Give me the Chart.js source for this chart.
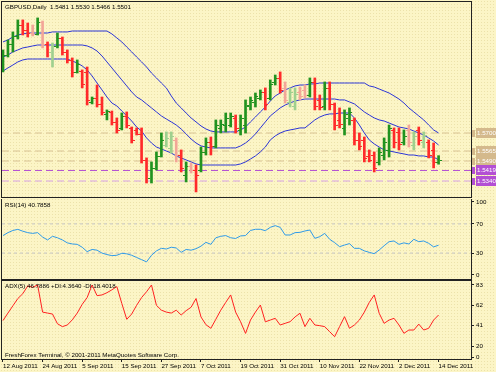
<!DOCTYPE html>
<html>
<head>
<meta charset="utf-8">
<script src="https://cdn.jsdelivr.net/npm/chart.js@4.4.0/dist/chart.umd.min.js"></script>
<style>
  html, body { margin: 0; padding: 0; }
  body {
    width: 496px; height: 372px; overflow: hidden; position: relative;
    background-color: #fcf5c6;
    background-image: radial-gradient(circle, rgba(190,170,90,0.25) 0.6px, transparent 0.8px);
    background-size: 3px 3px;
  }
  canvas { position: absolute; left: 0; }
  #main { top: 0; }
  #rsi { top: 199px; }
  #adx { top: 280px; }
</style>
</head>
<body>
<canvas id="main" width="496" height="199"></canvas>
<canvas id="rsi" width="496" height="81"></canvas>
<canvas id="adx" width="496" height="92"></canvas>
<script>
// GBPUSD daily bars, 12 Aug 2011 .. 14 Dec 2011 (one value per bar)
const openP = [1.6188,1.6285,1.6368,1.6428,1.6510,1.6473,1.6450,1.6443,1.6533,1.6368,
  1.6308,1.6353,1.6413,1.6308,1.6248,1.6158,1.6165,1.6158,1.5933,1.5963,
  1.5918,1.5843,1.5858,1.5783,1.5738,1.5828,1.5738,1.5723,1.5693,1.5498,
  1.5363,1.5438,1.5528,1.5610,1.5588,1.5648,1.5535,1.5385,1.5453,1.5423,
  1.5423,1.5558,1.5633,1.5603,1.5738,1.5760,1.5760,1.5813,1.5723,1.5760,
  1.5903,1.5933,1.5963,1.6008,1.5963,1.6083,1.6113,1.6038,1.5933,1.5903,
  1.6008,1.6023,1.5985,1.6083,1.5948,1.5903,1.6038,1.5918,1.5798,1.5738,
  1.5813,1.5798,1.5648,1.5648,1.5528,1.5535,1.5483,1.5535,1.5573,1.5723,
  1.5708,1.5633,1.5723,1.5610,1.5723,1.5633,1.5633,1.5573,1.5481];
const highP = [1.6323,1.6398,1.6458,1.6548,1.6548,1.6525,1.6510,1.6563,1.6540,1.6383,
  1.6375,1.6450,1.6420,1.6323,1.6263,1.6248,1.6173,1.6195,1.5970,1.6060,
  1.5970,1.5873,1.5865,1.5813,1.5850,1.5858,1.5745,1.5738,1.5738,1.5513,
  1.5483,1.5558,1.5700,1.5708,1.5708,1.5663,1.5573,1.5483,1.5475,1.5460,
  1.5595,1.5663,1.5670,1.5798,1.5798,1.5850,1.5850,1.5835,1.5835,1.5948,
  1.5970,1.6000,1.6023,1.6038,1.6098,1.6135,1.6158,1.6083,1.6038,1.6038,
  1.6045,1.6060,1.6113,1.6113,1.5985,1.6083,1.6083,1.5925,1.5888,1.5873,
  1.5888,1.5813,1.5700,1.5670,1.5573,1.5558,1.5588,1.5663,1.5760,1.5738,
  1.5738,1.5723,1.5760,1.5708,1.5745,1.5708,1.5648,1.5625,1.5530];
const lowP = [1.6158,1.6270,1.6308,1.6405,1.6435,1.6420,1.6428,1.6435,1.6338,1.6270,
  1.6195,1.6338,1.6285,1.6225,1.6120,1.6150,1.6038,1.5910,1.5918,1.5895,
  1.5835,1.5798,1.5760,1.5700,1.5723,1.5738,1.5625,1.5685,1.5475,1.5325,
  1.5325,1.5423,1.5520,1.5595,1.5550,1.5483,1.5408,1.5333,1.5400,1.5258,
  1.5408,1.5535,1.5535,1.5588,1.5700,1.5708,1.5745,1.5700,1.5685,1.5700,
  1.5873,1.5895,1.5948,1.5873,1.5948,1.6060,1.6000,1.5925,1.5895,1.5873,
  1.5948,1.5963,1.5970,1.5873,1.5873,1.5873,1.5873,1.5723,1.5738,1.5685,
  1.5760,1.5610,1.5573,1.5483,1.5483,1.5408,1.5460,1.5498,1.5520,1.5588,
  1.5573,1.5610,1.5595,1.5573,1.5610,1.5588,1.5513,1.5438,1.5466];
const closeP = [1.6285,1.6368,1.6428,1.6510,1.6473,1.6450,1.6443,1.6533,1.6368,1.6308,
  1.6353,1.6413,1.6308,1.6248,1.6158,1.6218,1.6068,1.5948,1.5963,1.5918,
  1.5858,1.5865,1.5783,1.5723,1.5828,1.5760,1.5648,1.5693,1.5498,1.5363,
  1.5438,1.5528,1.5648,1.5663,1.5678,1.5535,1.5438,1.5453,1.5423,1.5385,
  1.5558,1.5633,1.5603,1.5760,1.5768,1.5813,1.5828,1.5738,1.5813,1.5910,
  1.5948,1.5978,1.6008,1.5918,1.6068,1.6113,1.6023,1.5948,1.6008,1.5993,
  1.5978,1.5985,1.6083,1.5903,1.5895,1.6038,1.5918,1.5760,1.5768,1.5843,
  1.5858,1.5648,1.5603,1.5513,1.5498,1.5438,1.5558,1.5633,1.5738,1.5633,
  1.5618,1.5678,1.5633,1.5678,1.5648,1.5685,1.5535,1.5483,1.5501];
// bars that show up washed-out in the picture
const paleBars = [6, 8, 10, 33, 34, 35, 38, 57, 58, 59, 60, 61, 82, 83, 85];

// channel lines
const bandUpper = [1.6383,1.6398,1.6420,1.6435,1.6443,1.6450,1.6450,1.6450,1.6450,1.6450,
  1.6458,1.6458,1.6458,1.6458,1.6465,1.6465,1.6465,1.6465,1.6465,1.6465,
  1.6465,1.6465,1.6443,1.6413,1.6383,1.6345,1.6308,1.6270,1.6233,1.6195,
  1.6150,1.6113,1.6075,1.6038,1.5978,1.5925,1.5888,1.5850,1.5813,1.5783,
  1.5753,1.5730,1.5715,1.5708,1.5708,1.5708,1.5708,1.5708,1.5723,1.5745,
  1.5783,1.5820,1.5858,1.5895,1.5940,1.5978,1.6000,1.6023,1.6038,1.6053,
  1.6060,1.6060,1.6068,1.6068,1.6075,1.6075,1.6075,1.6075,1.6075,1.6075,
  1.6075,1.6075,1.6075,1.6075,1.6053,1.6045,1.6030,1.6015,1.6000,1.5978,
  1.5955,1.5925,1.5888,1.5858,1.5828,1.5798,1.5760,1.5723,1.5700];
const bandMiddle = [1.6270,1.6285,1.6308,1.6323,1.6338,1.6345,1.6353,1.6360,1.6360,1.6360,
  1.6360,1.6360,1.6360,1.6360,1.6360,1.6360,1.6360,1.6353,1.6338,1.6315,
  1.6278,1.6233,1.6188,1.6143,1.6098,1.6053,1.6008,1.5970,1.5948,1.5918,
  1.5888,1.5858,1.5828,1.5805,1.5783,1.5760,1.5730,1.5693,1.5655,1.5625,
  1.5603,1.5595,1.5588,1.5588,1.5588,1.5588,1.5588,1.5588,1.5603,1.5625,
  1.5655,1.5693,1.5738,1.5783,1.5828,1.5858,1.5888,1.5910,1.5925,1.5940,
  1.5948,1.5955,1.5955,1.5955,1.5955,1.5955,1.5955,1.5955,1.5948,1.5948,
  1.5933,1.5918,1.5888,1.5858,1.5835,1.5813,1.5798,1.5790,1.5775,1.5760,
  1.5745,1.5738,1.5730,1.5715,1.5700,1.5685,1.5663,1.5640,1.5610];
const bandLower = [1.6165,1.6188,1.6210,1.6233,1.6248,1.6255,1.6255,1.6255,1.6255,1.6255,
  1.6255,1.6255,1.6255,1.6255,1.6240,1.6225,1.6203,1.6173,1.6128,1.6075,
  1.6023,1.5970,1.5925,1.5903,1.5865,1.5828,1.5790,1.5745,1.5715,1.5663,
  1.5625,1.5595,1.5580,1.5565,1.5550,1.5528,1.5513,1.5498,1.5483,1.5468,
  1.5460,1.5460,1.5460,1.5460,1.5460,1.5460,1.5460,1.5460,1.5468,1.5483,
  1.5505,1.5528,1.5558,1.5595,1.5648,1.5678,1.5700,1.5715,1.5723,1.5730,
  1.5738,1.5738,1.5768,1.5798,1.5820,1.5835,1.5843,1.5843,1.5850,1.5850,
  1.5850,1.5813,1.5760,1.5700,1.5648,1.5618,1.5595,1.5573,1.5565,1.5558,
  1.5550,1.5543,1.5535,1.5535,1.5528,1.5528,1.5520,1.5520,1.5498];

const rsiValues = [54,58,61,62.5,60,58,57,58,52,48,
  53,51,48,44,42.5,42,38,32,35,34,
  30,28,26.5,27,29.7,29,27,24,21,18,
  27,33,36.5,35.6,38,37,31,35,34,36,
  39.5,44.7,42,51,53,54,51,50,53.5,54,
  61,62.6,62.6,60.7,65.3,67.6,65.3,54.8,54.8,58,
  58.4,60.3,61.6,50.2,52.5,57,48.9,44.3,38.8,41,
  43,36.5,36.5,33,31,29.2,34.2,40.1,45.6,46.6,
  42,44,42.5,48.9,45.6,46.6,43.4,38.5,40.8];
const adxValues = [46.3,54,61.5,69,74,82,80.6,83,55,54,
  53,43,40,41.7,47,54,63,70,83,72,
  72.7,75,78,81.3,64,47.6,53,62,70,76,
  83,62,57,55,54,57,52,56.5,60,69,
  50,42,38.3,47.6,57,65,72.7,55,45,33,
  46.8,55,62.3,45,46.8,48.6,41.7,43.4,45.1,50,
  53.8,40,48.6,41.7,41,40,34.8,29.6,40,50.3,
  38.3,41.7,46.8,55,65,72.7,53.8,43.4,46.8,48.6,
  41.7,33.1,36.5,36.5,42.6,36.5,38.3,46.8,52];

// horizontal levels and axis labels
const levelPrices = [1.5700, 1.5565, 1.5490, 1.5419, 1.5340];
const priceTicks = [1.6585, 1.6435, 1.6285, 1.6135, 1.5985, 1.5835, 1.5685, 1.5535, 1.5385, 1.5235];
const rsiTicks = [100, 70, 30, 0];
const rsiLevels = [70, 30];
const adxTicks = [83, 62, 41, 20, 0];
const dateTickIndex = [0, 8, 16, 24, 32, 40, 48, 56, 64, 72, 80, 88];
const dateTickLabel = ['12 Aug 2011', '24 Aug 2011', '5 Sep 2011', '15 Sep 2011', '27 Sep 2011', '7 Oct 2011',
  '19 Oct 2011', '31 Oct 2011', '10 Nov 2011', '22 Nov 2011', '2 Dec 2011', '14 Dec 2011'];

const xMin = -0.2, xMax = 94.55;
const upColor = '#21931f', downColor = '#ff2a2a', bandColor = '#2b34d6';
const upPale = '#9fd08e', downPale = '#f3a698';
const levelColors = ['#d8c293', '#d8c293', '#d8c293', '#b24ed2', '#d7a2e6'];
const boxColors = ['#d4b98c', '#d4b98c', '#d4b98c', '#b34fd4', '#b34fd4'];
const fontFamily = '"Liberation Sans", Arial, sans-serif';
const fontPx = 6.2;
const smallFont = { family: fontFamily, size: fontPx };

function barColor(i) {
  const up = closeP[i] >= openP[i];
  if (paleBars.includes(i)) return up ? upPale : downPale;
  return up ? upColor : downColor;
}

// pane frame + caption texts
const paneDecor = {
  id: 'paneDecor',
  afterDraw(chart, args, opts) {
    const { ctx, chartArea: a } = chart;
    ctx.save();
    ctx.strokeStyle = '#222';
    ctx.lineWidth = 1;
    ctx.strokeRect(a.left - 0.5, a.top - 0.5, a.right - a.left + 1, a.bottom - a.top + 1);
    ctx.font = fontPx + 'px ' + fontFamily;
    ctx.fillStyle = '#000';
    ctx.textBaseline = 'middle';
    (opts.texts || []).forEach(t => {
      ctx.fillText(t.s, a.left + 3, t.fromBottom ? a.bottom - t.dy : a.top + t.dy);
    });
    ctx.restore();
  }
};

// open/close ticks of the OHLC bars
const ohlcTicks = {
  id: 'ohlcTicks',
  afterDatasetsDraw(chart) {
    const { ctx, scales: { x, y } } = chart;
    ctx.save();
    ctx.beginPath();
    ctx.rect(chart.chartArea.left, chart.chartArea.top, chart.chartArea.width, chart.chartArea.height);
    ctx.clip();
    ctx.lineWidth = 1;
    for (let i = 0; i < closeP.length; i++) {
      const px = Math.round(x.getPixelForValue(i));
      const yo = Math.round(y.getPixelForValue(openP[i])) + 0.5;
      const yc = Math.round(y.getPixelForValue(closeP[i])) + 0.5;
      ctx.strokeStyle = barColor(i);
      ctx.beginPath();
      ctx.moveTo(px - 3, yo); ctx.lineTo(px - 1, yo);
      ctx.moveTo(px + 1, yc); ctx.lineTo(px + 3, yc);
      ctx.stroke();
    }
    ctx.restore();
  }
};

// price labels of the horizontal levels on the right axis
const levelBoxes = {
  id: 'levelBoxes',
  afterDraw(chart) {
    const { ctx, chartArea: a, scales: { y } } = chart;
    ctx.save();
    ctx.font = fontPx + 'px ' + fontFamily;
    ctx.textBaseline = 'middle';
    levelPrices.forEach((v, k) => {
      const py = Math.round(y.getPixelForValue(v));
      ctx.fillStyle = boxColors[k];
      ctx.fillRect(a.right + 1, py - 3, 3, 7);
      ctx.fillRect(a.right + 5, py - 5, 22, 10);
      ctx.fillStyle = '#fff';
      ctx.fillText(v.toFixed(4), a.right + 6, py + 0.5);
    });
    ctx.restore();
  }
};

const hLine = (v, color, dash) => ({
  type: 'line', data: [{ x: xMin, y: v }, { x: xMax, y: v }],
  borderColor: color, borderWidth: 1, borderDash: dash, pointRadius: 0, order: 9
});
const series = (vals, color, order) => ({
  type: 'line', data: vals.map((v, i) => ({ x: i, y: v })),
  borderColor: color, borderWidth: 1, pointRadius: 0, tension: 0, order: order
});
// right-hand value axis; the lowest label is kept inside the pane as the terminal does
const rightAxis = (min, max, tickVals, fmt) => ({
  position: 'right', min: min, max: max,
  afterBuildTicks: s => { s.ticks = tickVals.map(v => ({ value: Math.max(v, min + 2) })); },
  afterFit: s => { s.width = 25; s.paddingTop = 0; s.paddingBottom = 0; },
  ticks: { autoSkip: false, padding: 2, color: '#000', font: smallFont, callback: (v, idx) => fmt(tickVals[idx]) },
  grid: { drawOnChartArea: false, tickLength: 3, tickColor: '#222' },
  border: { color: '#222' }
});
const hiddenX = { type: 'linear', min: xMin, max: xMax, offset: false, display: false };
const basePlugins = { legend: { display: false }, tooltip: { enabled: false } };

new Chart(document.getElementById('main'), {
  type: 'bar',
  data: {
    datasets: [
      ...levelPrices.map((v, k) => hLine(v, levelColors[k], [7, 4])),
      series(bandUpper, bandColor, 3),
      series(bandMiddle, bandColor, 3),
      series(bandLower, bandColor, 3),
      {
        type: 'bar',
        data: highP.map((h, i) => ({ x: i, y: [lowP[i], h] })),
        backgroundColor: closeP.map((c, i) => barColor(i)),
        barThickness: 2, borderWidth: 0, order: 1
      }
    ]
  },
  options: {
    responsive: false, animation: false,
    layout: { padding: { left: 2, top: 2, right: 0, bottom: 2 } },
    plugins: Object.assign({}, basePlugins, {
      paneDecor: { texts: [{ s: 'GBPUSD,Daily  1.5481 1.5530 1.5466 1.5501', dy: 5 }] }
    }),
    scales: {
      x: hiddenX,
      y: rightAxis(1.5220, 1.66825, priceTicks, v => v.toFixed(4))
    }
  },
  plugins: [paneDecor, ohlcTicks, levelBoxes]
});

new Chart(document.getElementById('rsi'), {
  type: 'line',
  data: {
    datasets: [
      ...rsiLevels.map(v => hLine(v, '#c4c4c4', [3, 3])),
      series(rsiValues, '#2f9ae8', 1)
    ]
  },
  options: {
    responsive: false, animation: false,
    layout: { padding: { left: 2, top: 0, right: 0, bottom: 1 } },
    plugins: Object.assign({}, basePlugins, {
      paneDecor: { texts: [{ s: 'RSI(14) 40.7858', dy: 6 }] }
    }),
    scales: {
      x: hiddenX,
      y: rightAxis(-5.5, 104.1, rsiTicks, v => String(v))
    }
  },
  plugins: [paneDecor]
});

new Chart(document.getElementById('adx'), {
  type: 'line',
  data: { datasets: [series(adxValues, '#ff2020', 1)] },
  options: {
    responsive: false, animation: false,
    layout: { padding: { left: 2, top: 1, right: 0, bottom: 0 } },
    plugins: Object.assign({}, basePlugins, {
      paneDecor: { texts: [
        { s: 'ADX(5) 46.7886 +DI:4.3640 -DI:18.4018', dy: 5 },
        { s: 'FreshForex Terminal, \u00a9 2001-2011 MetaQuotes Software Corp.', dy: 4, fromBottom: true }
      ] }
    }),
    scales: {
      x: {
        type: 'linear', min: xMin, max: xMax, offset: false, position: 'bottom',
        afterBuildTicks: s => { s.ticks = dateTickIndex.map(v => ({ value: v })); },
        afterFit: s => { s.height = 13; s.paddingLeft = 0; s.paddingRight = 0; },
        ticks: { autoSkip: false, maxRotation: 0, align: 'start', padding: 1, color: '#000', font: smallFont,
          callback: (v, idx) => dateTickLabel[idx] },
        grid: { drawOnChartArea: false, tickLength: 3, tickColor: '#222' },
        border: { display: false }
      },
      y: rightAxis(6.6, 87.1, adxTicks, v => String(v))
    }
  },
  plugins: [paneDecor]
});
</script>
</body>
</html>
